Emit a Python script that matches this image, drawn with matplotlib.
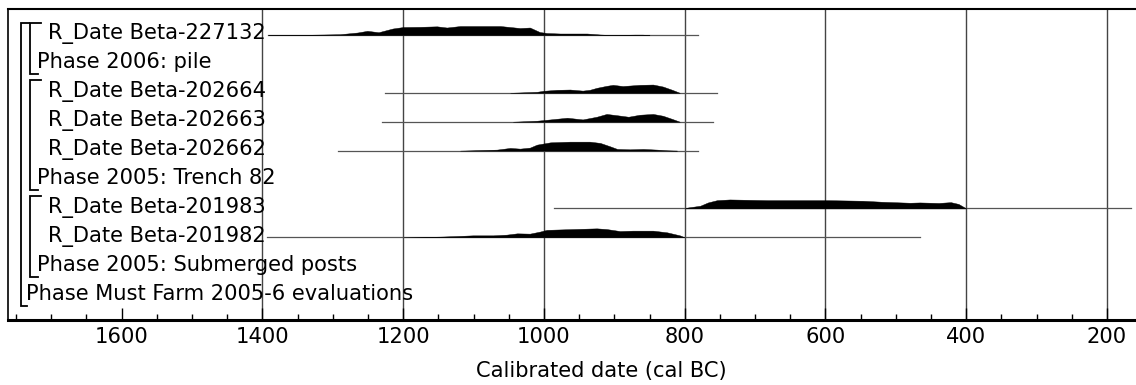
import matplotlib
matplotlib.use('Agg')
import matplotlib.pyplot as plt
from matplotlib.ticker import MultipleLocator, FixedLocator

# rows from top to bottom of the OxCal multiplot
labels = ['R_Date Beta-227132', 'Phase 2006: pile',
          'R_Date Beta-202664', 'R_Date Beta-202663', 'R_Date Beta-202662',
          'Phase 2005: Trench 82',
          'R_Date Beta-201983', 'R_Date Beta-201982',
          'Phase 2005: Submerged posts',
          'Phase Must Farm 2005-6 evaluations']
# 0 = date, 1 = sub phase, 2 = outer phase
levels = [0, 1, 0, 0, 0, 1, 0, 0, 1, 2]

# full calibration ranges (cal BC), start / end
range_rows = [0, 2, 3, 4, 6, 7]
range_start = [1392, 1226, 1230, 1292, 986, 1394]
range_end = [781, 754, 760, 781, 166, 465]

# calibrated probability profiles: years and relative heights
years_227132 = [1392, 1330, 1290, 1265, 1251, 1235, 1215, 1200, 1176, 1152,
                1138, 1119, 1091, 1062, 1048, 1034, 1020, 1006, 996, 977,
                959, 939, 920, 905, 870, 860, 850]
prob_227132 = [0, 0.3, 0.8, 2.5, 4.2, 2.8, 6.5, 8, 8.2, 8.7,
               7.5, 9, 9, 9, 8, 7, 7.5, 3, 2, 1.5,
               1.5, 1.5, 0.5, 0, 0.4, 0.4, 0]

years_202664 = [1048, 1010, 1001, 982, 963, 945, 935, 925, 911, 902,
                888, 878, 864, 845, 831, 817, 807]
prob_202664 = [0, 1, 2, 3, 3.3, 2.2, 3, 5, 7, 8,
               6.8, 7.3, 8, 8.3, 6.3, 2.8, 0]

years_202663 = [1044, 1010, 991, 967, 945, 925, 911, 896, 880, 864,
                845, 831, 817, 807]
prob_202663 = [0, 1, 2.3, 4, 2.3, 5, 7.8, 6.5, 5, 7,
               7.8, 6, 2.6, 0]

years_202662 = [1119, 1067, 1048, 1034, 1020, 1010, 991, 963, 935, 920,
                906, 896, 878, 859, 839, 825, 811]
prob_202662 = [0, 1, 2.7, 2, 3, 6, 8.3, 9, 9, 7.7,
               4.3, 1.7, 1.3, 1.7, 1, 0.3, 0]

years_201983 = [800, 795, 778, 767, 754, 736, 713, 682, 651, 628,
                597, 547, 520, 480, 466, 439, 422, 411, 400]
prob_201983 = [0, 1, 2.7, 6, 8.3, 9, 8.7, 8.3, 8.3, 8.3,
               8.3, 7.7, 6.7, 5.7, 6, 5.5, 6.3, 4.5, 0]

years_201982 = [1200, 1148, 1124, 1101, 1072, 1053, 1038, 1020, 1006, 996,
                959, 925, 911, 892, 874, 845, 825, 807, 800]
prob_201982 = [0, 0.7, 1.3, 2, 2, 2.7, 4, 3.7, 5.7, 7.5,
               8.3, 9, 8.3, 6.3, 6.7, 6.7, 5, 2, 0]

dist_rows = [0, 2, 3, 4, 6, 7]
dist_years = [years_227132, years_202664, years_202663, years_202662,
              years_201983, years_201982]
dist_probs = [prob_227132, prob_202664, prob_202663, prob_202662,
              prob_201983, prob_201982]

# phase brackets: first member row, phase label row, depth
bracket_top = [0, 2, 6, 0]
bracket_bottom = [1, 5, 8, 9]
bracket_depth = [1, 1, 1, 2]

grid_years = [1400, 1200, 1000, 800, 600, 400, 200]

fs = 15.1
scale = 0.0345  # row units per unit of relative height

fig = plt.figure(figsize=(11.36, 3.85), dpi=100)
ax = fig.add_axes([8 / 1136, 65 / 385, 1128 / 1136, 311 / 385])
ax.set_xlim(1761.5, 158.8)
ax.set_ylim(9.86, -0.90)

for g in grid_years:
    ax.axvline(g, color='#444444', lw=1.0, zorder=1)

for r, a, b in zip(range_rows, range_start, range_end):
    ax.plot([a, b], [r, r], color='#555555', lw=0.9, zorder=2)

for r, yrs, p in zip(dist_rows, dist_years, dist_probs):
    top = [r - v * scale for v in p]
    ax.fill_between(yrs, r, top, color='black', lw=0.3, zorder=3)

trans = ax.get_yaxis_transform()
text_x = {0: 0.0355, 1: 0.0257, 2: 0.016}
for i, (lab, lev) in enumerate(zip(labels, levels)):
    ax.text(text_x[lev], i + 0.155, lab, transform=trans, fontsize=fs,
            ha='left', va='baseline', zorder=4)

bx = {1: 0.0198, 2: 0.0115}
for t, b, d in zip(bracket_top, bracket_bottom, bracket_depth):
    x0 = bx[d]
    top_end = x0 + (0.0095 if d == 1 else 0.007)
    bot_end = x0 + (0.0065 if d == 1 else 0.0055)
    ax.plot([top_end, x0, x0, bot_end], [t - 0.43, t - 0.43, b + 0.36, b + 0.36],
            color='black', lw=1.3, transform=trans, clip_on=False, zorder=4,
            solid_joinstyle='miter')

ax.spines['right'].set_visible(False)
ax.spines['left'].set_linewidth(1.2)
ax.spines['top'].set_linewidth(1.5)
ax.spines['bottom'].set_linewidth(2.2)

ax.xaxis.set_major_locator(FixedLocator([1600, 1400, 1200, 1000, 800, 600, 400, 200]))
ax.xaxis.set_minor_locator(MultipleLocator(50))
ax.tick_params(axis='x', which='major', direction='in', length=8.6, width=1.0,
               labelsize=fs, pad=5)
ax.tick_params(axis='x', which='minor', direction='in', length=4.3, width=1.0)
ax.set_yticks([])

ax.set_xlabel('Calibrated date (cal BC)', fontsize=fs)
ax.xaxis.set_label_coords(0.5257, -0.132)

fig.savefig('out.png', dpi=100)
